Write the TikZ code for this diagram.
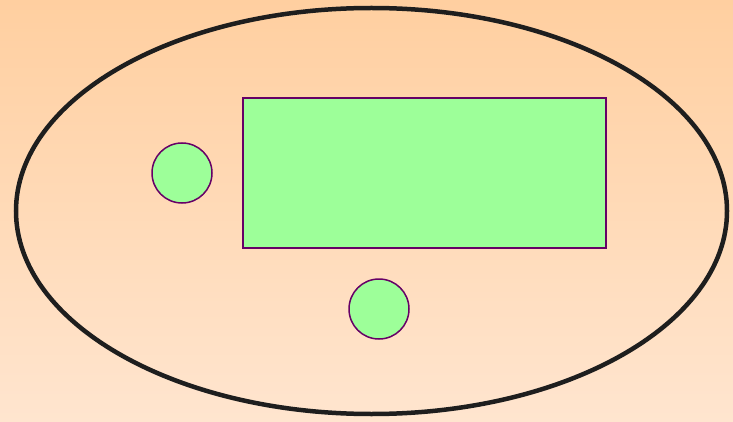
\documentclass[tikz,border=0pt]{standalone}
\usepackage{xcolor}
\usepackage{tikz}
\usetikzlibrary{shapes.geometric}
\usetikzlibrary{positioning}

\definecolor{peachtop}{HTML}{FFCFA0}
\definecolor{peachbot}{HTML}{FFE5CF}
\definecolor{leaf}{HTML}{9DFF99}
\definecolor{plum}{HTML}{660066}
\definecolor{rim}{HTML}{1E1E1E}

\begin{document}
\begin{tikzpicture}[
  x=1pt, y=-1pt,
  outer/.style={ellipse, draw=rim, line width=4.5pt, inner sep=0pt, minimum width=711pt, minimum height=406pt},
  blob/.style={circle, draw=plum, fill=leaf, line width=1.5pt, inner sep=0pt, minimum size=60pt},
  slab/.style={rectangle, draw=plum, fill=leaf, line width=1.5pt, inner sep=0pt, minimum width=363pt, minimum height=150pt},
]
  % background
  \shade[top color=peachtop, bottom color=peachbot] (0,0) rectangle (733,422);
  \useasboundingbox (0,0) rectangle (733,422);

  \node[outer] (world) at (371.5,211) {};

  \node[slab] (box) at (424.5,173) {};
  \node[blob] (left) at (182,173) {};
  \node[blob] (low) at (379,309) {};
\end{tikzpicture}
\end{document}
